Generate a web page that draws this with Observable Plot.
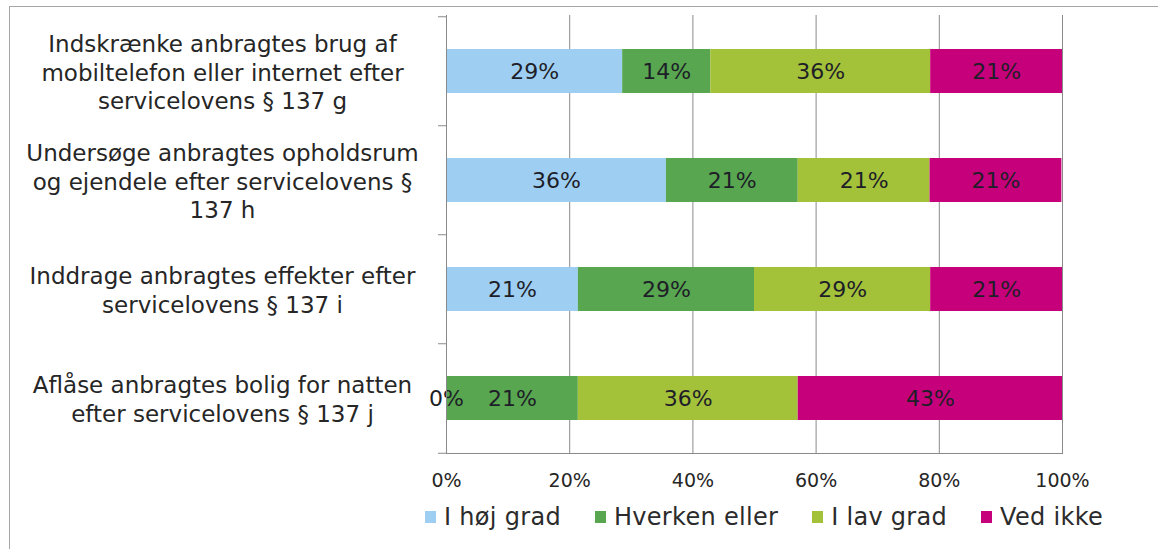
<!DOCTYPE html>
<html><head><meta charset="utf-8">
<script src="https://cdn.jsdelivr.net/npm/d3@7"></script>
<script src="https://cdn.jsdelivr.net/npm/@observablehq/plot@0.6"></script>
<style>
body{margin:0;background:#fff;overflow:hidden;font-family:"DejaVu Sans",sans-serif;}
#wrap{position:relative;width:1158px;height:549px;overflow:hidden;}
#border{position:absolute;left:9px;top:6px;width:1300px;height:700px;border-left:1px solid #a6a6a6;border-top:1px solid #a6a6a6;}
#chart{position:absolute;left:0;top:0;}
#legend{position:absolute;left:425px;top:503px;display:flex;align-items:center;font-size:24px;letter-spacing:0.3px;color:#2b2b2b;}
#legend .item{display:flex;align-items:center;margin-right:34px;}
#legend .sw{width:11px;height:12px;margin-right:8px;}
</style>
</head><body>
<div id="wrap"><div id="border"></div><div id="chart"></div><div id="legend"></div></div>
<script>
const categories = [
  "Indskrænke anbragtes brug af\nmobiltelefon eller internet efter\nservicelovens § 137 g",
  "Undersøge anbragtes opholdsrum\nog ejendele efter servicelovens §\n137 h",
  "Inddrage anbragtes effekter efter\nservicelovens § 137 i",
  "Aflåse anbragtes bolig for natten\nefter servicelovens § 137 j"
];
const responses = ["I høj grad", "Hverken eller", "I lav grad", "Ved ikke"];
const colors = ["#9ecef2", "#58a64f", "#a4c13a", "#c6007a"];
const iHoejGrad   = [28.6, 35.7, 21.4, 0];
const hverkenEller = [14.3, 21.4, 28.6, 21.4];
const iLavGrad    = [35.7, 21.4, 28.6, 35.7];
const vedIkke     = [21.4, 21.4, 21.4, 42.9];
const xTicks = [0, 20, 40, 60, 80, 100];

const series = [iHoejGrad, hverkenEller, iLavGrad, vedIkke];
const data = [];
categories.forEach((c, i) => responses.forEach((r, j) => data.push({category: c, response: r, value: series[j][i]})));

const W = 1158, H = 500, mT = 15, mB = H - 453, mL = 446, mR = W - 1062;
const step = (H - mT - mB) / categories.length;
const font = "DejaVu Sans, sans-serif";

const plot = Plot.plot({
  width: W, height: H,
  marginTop: mT, marginBottom: mB, marginLeft: mL, marginRight: mR,
  style: {fontFamily: font, background: "transparent", overflow: "visible"},
  x: {domain: [0, 100], axis: null, label: null},
  y: {domain: categories, paddingInner: 0.6, paddingOuter: 0.3, axis: null, label: null},
  color: {domain: responses, range: colors},
  marks: [
    Plot.ruleX(xTicks.slice(1), {stroke: "#8a8a8a", strokeWidth: 1}),
    Plot.barX(data, Plot.stackX({x: "value", y: "category", fill: "response"})),
    Plot.text(data, Plot.stackX({x: "value", y: "category", text: d => Math.round(d.value) + "%",
      fill: "#1e1e28", fontSize: 22, letterSpacing: "1px"})),
    Plot.ruleX([0], {stroke: "#8a8a8a"}),
    Plot.frame({anchor: "bottom", stroke: "#8a8a8a"}),
    Plot.axisY({ticks: categories, tickSize: 8, tickFormat: () => "", dy: -step / 2, stroke: "#8a8a8a", label: null}),
    Plot.axisY({ticks: categories.slice(-1), tickSize: 8, tickFormat: () => "", dy: step / 2, stroke: "#8a8a8a", label: null}),
    Plot.axisY({ticks: categories, tickSize: 0, tickPadding: 224, textAnchor: "middle", label: null,
      tickFormat: d => d, fontSize: 23, lineHeight: 1.25, fill: "#262626", letterSpacing: "1.8px"}),
    Plot.axisX({ticks: xTicks, tickSize: 0, tickPadding: 20, tickFormat: d => d + "%", label: null,
      fontSize: 19, fill: "#262626", letterSpacing: "0.5px"})
  ]
});
document.getElementById("chart").appendChild(plot);

const legend = document.getElementById("legend");
responses.forEach((r, i) => {
  const item = document.createElement("div"); item.className = "item";
  const sw = document.createElement("div"); sw.className = "sw"; sw.style.background = colors[i];
  const t = document.createElement("span"); t.textContent = r;
  item.appendChild(sw); item.appendChild(t); legend.appendChild(item);
});
</script>
</body></html>
